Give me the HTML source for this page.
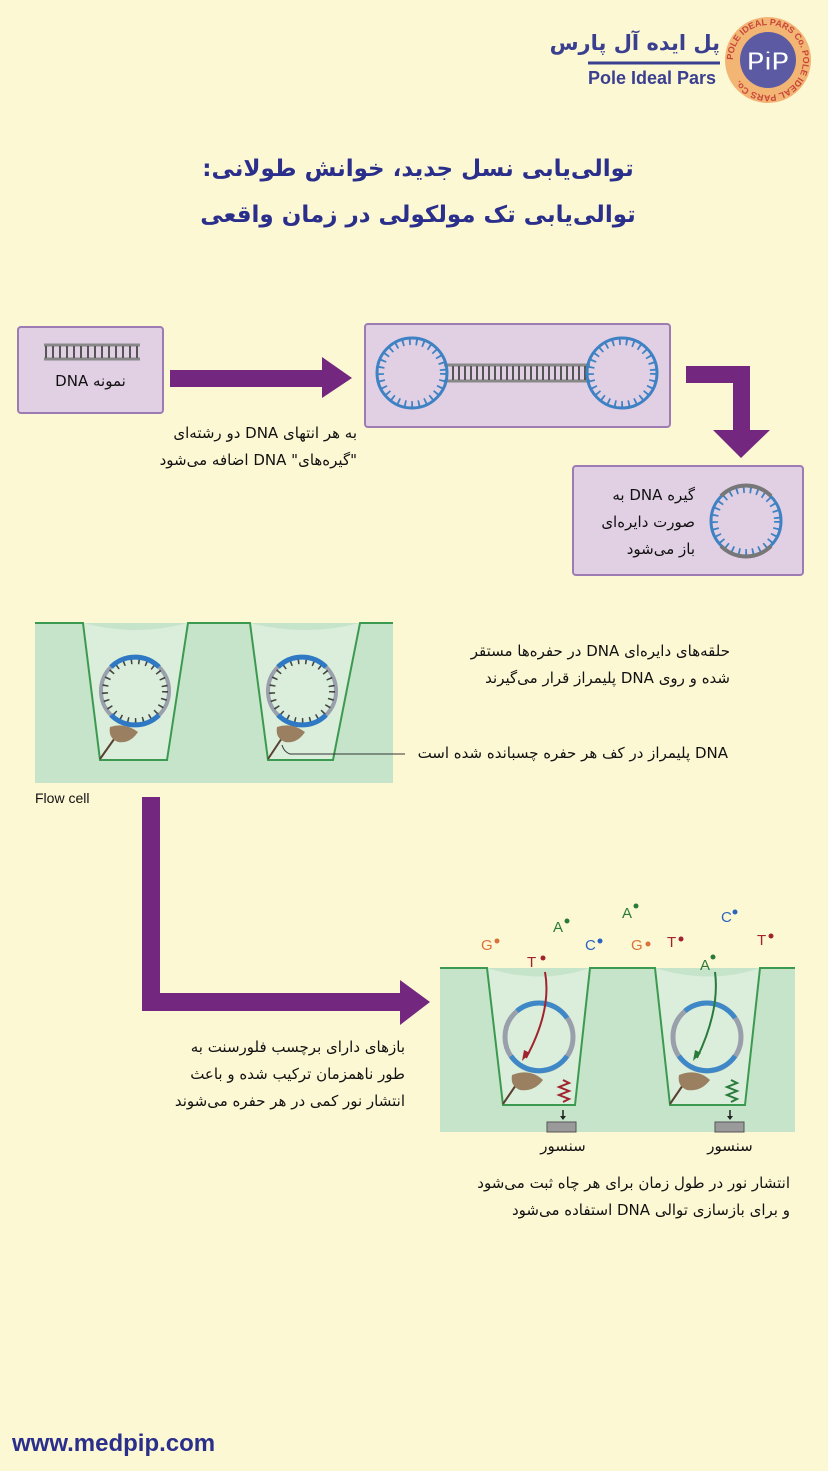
<!DOCTYPE html>
<html><head><meta charset="utf-8">
<style>
body{margin:0;background:#fdf8d4;}
#w{position:relative;width:828px;height:1471px;overflow:hidden;background:#fdf8d4;font-family:"Liberation Sans","Noto Sans CJK SC",sans-serif;}
.t{position:absolute;direction:rtl;text-align:right;color:#111;font-size:15px;line-height:27px;white-space:nowrap;font-family:"DejaVu Sans","Liberation Sans",sans-serif;}
svg{position:absolute;left:0;top:0;}
</style></head><body><div id="w">
<svg width="828" height="1471" viewBox="0 0 828 1471">
<!-- logo -->
<line x1="588" y1="63" x2="720" y2="63" stroke="#3a3f8f" stroke-width="3"/>
<circle cx="768" cy="60" r="43" fill="#f3b574"/>
<circle cx="768" cy="60" r="28" fill="#5b5aa3"/>
<text x="768" y="70" font-family="Liberation Sans" font-weight="bold" font-size="26" fill="#fff" stroke="#5b5aa3" text-anchor="middle">PiP</text>
<path id="arc" d="M733,60 A35,35 0 1,1 803,60 A35,35 0 1,1 733,60" fill="none"/>
<text font-size="9" fill="#c8453a" font-family="Liberation Sans" font-weight="bold"><textPath href="#arc">POLE IDEAL PARS Co. POLE IDEAL PARS Co.</textPath></text>

<!-- boxes -->
<rect x="18" y="327" width="145" height="86" rx="3" fill="#e1cfe4" stroke="#9c7cb3" stroke-width="2"/>
<rect x="365" y="324" width="305" height="103" rx="3" fill="#e1cfe4" stroke="#9c7cb3" stroke-width="2"/>
<rect x="573" y="466" width="230" height="109" rx="3" fill="#e1cfe4" stroke="#9c7cb3" stroke-width="2"/>
<line x1="44" y1="345" x2="140" y2="345" stroke="#888" stroke-width="3"/>
<line x1="44" y1="359" x2="140" y2="359" stroke="#888" stroke-width="3"/>
<line x1="45" y1="352" x2="140" y2="352" stroke="#555" stroke-width="12" stroke-dasharray="2 5"/>
<line x1="444" y1="365" x2="590" y2="365" stroke="#888" stroke-width="3"/>
<line x1="444" y1="381" x2="590" y2="381" stroke="#888" stroke-width="3"/>
<line x1="446" y1="373" x2="590" y2="373" stroke="#555" stroke-width="14" stroke-dasharray="2 4"/>
<g transform="translate(412,373)"><circle r="35" fill="none" stroke="#3e82c4" stroke-width="3"/><circle r="31" fill="none" stroke="#3e82c4" stroke-width="6" stroke-dasharray="1.8 5"/></g>
<g transform="translate(622,373)"><circle r="35" fill="none" stroke="#3e82c4" stroke-width="3"/><circle r="31" fill="none" stroke="#3e82c4" stroke-width="6" stroke-dasharray="1.8 5"/></g>
<g transform="translate(746,521)"><circle r="35" fill="none" stroke="#3e82c4" stroke-width="3"/><circle r="31" fill="none" stroke="#3e82c4" stroke-width="6" stroke-dasharray="1.8 5"/>
<path d="M-25,-25 A35,35 0 0,1 25,-25" fill="none" stroke="#777" stroke-width="4"/>
<path d="M-25,25 A35,35 0 0,0 25,25" fill="none" stroke="#777" stroke-width="4"/></g>

<!-- arrows -->
<polygon points="170,370 322,370 322,357 352,378 322,398 322,387 170,387" fill="#74277f"/>
<polygon points="686,366 750,366 750,430 770,430 741,458 713,430 733,430 733,383 686,383" fill="#74277f"/>
<polygon points="142,797 160,797 160,993 400,993 400,980 430,1002 400,1025 400,1011 142,1011" fill="#74277f"/>

<!-- flow cell 1 -->
<rect x="35" y="623" width="358" height="160" fill="#c6e4c9"/>
<path d="M83,623 Q135,637 188,623 L167,760 L100,760 Z" fill="#daeedb"/>
<path d="M250,623 Q305,637 360,623 L333,760 L268,760 Z" fill="#daeedb"/>
<path d="M35,623 L83,623 L100,760 L167,760 L188,623 L250,623 L268,760 L333,760 L360,623 L393,623" fill="none" stroke="#3c9a50" stroke-width="2"/>
<g transform="translate(135,691)"><circle r="34" fill="none" stroke="#9aa0ab" stroke-width="4"/><circle r="30" fill="none" stroke="#444" stroke-width="6" stroke-dasharray="1.6 6"/>
<path d="M-24,-24 A34,34 0 0,1 24,-24" fill="none" stroke="#2f78c4" stroke-width="5"/><path d="M-24,24 A34,34 0 0,0 24,24" fill="none" stroke="#2f78c4" stroke-width="5"/></g>
<g transform="translate(302,691)"><circle r="34" fill="none" stroke="#9aa0ab" stroke-width="4"/><circle r="30" fill="none" stroke="#444" stroke-width="6" stroke-dasharray="1.6 6"/>
<path d="M-24,-24 A34,34 0 0,1 24,-24" fill="none" stroke="#2f78c4" stroke-width="5"/><path d="M-24,24 A34,34 0 0,0 24,24" fill="none" stroke="#2f78c4" stroke-width="5"/></g>
<line x1="100" y1="759" x2="117" y2="735" stroke="#5a4030" stroke-width="2"/>
<path d="M110,727 Q125,722 138,732 Q130,744 118,742 Q108,738 110,727Z" fill="#9a8060"/>
<line x1="268" y1="759" x2="284" y2="735" stroke="#5a4030" stroke-width="2"/>
<path d="M277,727 Q292,722 305,732 Q297,744 285,742 Q275,738 277,727Z" fill="#9a8060"/>
<line x1="405" y1="754" x2="290" y2="754" stroke="#333" stroke-width="1"/>
<path d="M290,754 Q284,752 282,745" fill="none" stroke="#333" stroke-width="1"/>

<!-- flow cell 2 -->
<rect x="440" y="968" width="355" height="164" fill="#c6e4c9"/>
<path d="M487,968 Q540,985 590,968 L575,1105 L503,1105 Z" fill="#daeedb"/>
<path d="M655,968 Q710,985 760,968 L745,1105 L670,1105 Z" fill="#daeedb"/>
<path d="M440,968 L487,968 L503,1105 L575,1105 L590,968 L655,968 L670,1105 L745,1105 L760,968 L795,968" fill="none" stroke="#3c9a50" stroke-width="2"/>
<g transform="translate(539,1037)"><circle r="34" fill="none" stroke="#9aa0ab" stroke-width="5"/><path d="M-22,-26 A34,34 0 0,1 28,-19" fill="none" stroke="#3e88c8" stroke-width="5"/><path d="M-28,19 A34,34 0 0,0 28,19" fill="none" stroke="#3e88c8" stroke-width="5"/></g>
<g transform="translate(707,1037)"><circle r="34" fill="none" stroke="#9aa0ab" stroke-width="5"/><path d="M-22,-26 A34,34 0 0,1 28,-19" fill="none" stroke="#3e88c8" stroke-width="5"/><path d="M-28,19 A34,34 0 0,0 28,19" fill="none" stroke="#3e88c8" stroke-width="5"/></g>
<path d="M545,972 Q552,1010 526,1058" fill="none" stroke="#a0232e" stroke-width="2"/><polygon points="522,1061 524,1050 530,1053" fill="#a0232e"/>
<path d="M715,972 Q720,1010 697,1058" fill="none" stroke="#2a7a3c" stroke-width="2"/><polygon points="693,1061 695,1050 701,1053" fill="#2a7a3c"/>
<line x1="503" y1="1104" x2="518" y2="1082" stroke="#5a4030" stroke-width="2"/>
<path d="M512,1075 Q530,1068 543,1080 Q534,1092 520,1090 Q510,1086 512,1075Z" fill="#9a8060"/>
<line x1="670" y1="1104" x2="685" y2="1082" stroke="#5a4030" stroke-width="2"/>
<path d="M679,1075 Q697,1068 710,1080 Q701,1092 687,1090 Q677,1086 679,1075Z" fill="#9a8060"/>
<polyline points="563,1080 569,1083 559,1087 569,1091 559,1095 569,1099 563,1102" fill="none" stroke="#a0232e" stroke-width="2"/>
<polyline points="731,1080 737,1083 727,1087 737,1091 727,1095 737,1099 731,1102" fill="none" stroke="#2a7a3c" stroke-width="2"/>
<line x1="563" y1="1110" x2="563" y2="1119" stroke="#222" stroke-width="1.5"/><polygon points="560,1116 566,1116 563,1120" fill="#222"/>
<line x1="730" y1="1110" x2="730" y2="1119" stroke="#222" stroke-width="1.5"/><polygon points="727,1116 733,1116 730,1120" fill="#222"/>
<rect x="547" y="1122" width="29" height="10" fill="#9a9a9a" stroke="#555"/>
<rect x="715" y="1122" width="29" height="10" fill="#9a9a9a" stroke="#555"/>
<g font-family="Liberation Sans" font-size="15">
<text x="481" y="950" fill="#d9723a">G</text><circle cx="497" cy="941" r="2.5" fill="#d9723a"/>
<text x="553" y="932" fill="#2a7a3c">A</text><circle cx="567" cy="921" r="2.5" fill="#2a7a3c"/>
<text x="585" y="950" fill="#2d63c0">C</text><circle cx="600" cy="941" r="2.5" fill="#2d63c0"/>
<text x="527" y="967" fill="#a0232e">T</text><circle cx="543" cy="958" r="2.5" fill="#a0232e"/>
<text x="622" y="918" fill="#2a7a3c">A</text><circle cx="636" cy="906" r="2.5" fill="#2a7a3c"/>
<text x="631" y="950" fill="#d9723a">G</text><circle cx="648" cy="944" r="2.5" fill="#d9723a"/>
<text x="667" y="947" fill="#a0232e">T</text><circle cx="681" cy="939" r="2.5" fill="#a0232e"/>
<text x="721" y="922" fill="#2d63c0">C</text><circle cx="735" cy="912" r="2.5" fill="#2d63c0"/>
<text x="757" y="945" fill="#a0232e">T</text><circle cx="771" cy="936" r="2.5" fill="#a0232e"/>
<text x="700" y="970" fill="#2a7a3c">A</text><circle cx="713" cy="957" r="2.5" fill="#2a7a3c"/>
</g>
</svg>

<div class="t" style="right:108px;top:30px;font-size:21px;color:#3a3f8f;font-weight:bold;">پل ایده آل پارس</div>
<div style="position:absolute;left:588px;top:68px;font-size:18px;font-weight:bold;color:#3a3f8f;font-family:'Liberation Sans',sans-serif;">Pole Ideal Pars</div>

<div class="t" style="left:0;width:836px;text-align:center;top:146px;font-size:23px;line-height:46px;font-weight:bold;color:#2b2f8c;">توالی‌یابی نسل جدید، خوانش طولانی:<br>توالی‌یابی تک مولکولی در زمان واقعی</div>

<div class="t" style="left:18px;width:145px;text-align:center;top:368px;">نمونه DNA</div>
<div class="t" style="right:471px;top:420px;">به هر انتهای DNA دو رشته‌ای<br>"گیره‌های" DNA اضافه می‌شود</div>
<div class="t" style="right:133px;top:482px;line-height:27px;">گیره DNA به<br>صورت دایره‌ای<br>باز می‌شود</div>
<div class="t" style="right:98px;top:638px;">حلقه‌های دایره‌ای DNA در حفره‌ها مستقر<br>شده و روی DNA پلیمراز قرار می‌گیرند</div>
<div class="t" style="right:100px;top:740px;">DNA پلیمراز در کف هر حفره چسبانده شده است</div>
<div style="position:absolute;left:35px;top:790px;font-size:14px;color:#111;font-family:'Liberation Sans',sans-serif;">Flow cell</div>
<div class="t" style="right:423px;top:1034px;">بازهای دارای برچسب فلورسنت به<br>طور ناهمزمان ترکیب شده و باعث<br>انتشار نور کمی در هر حفره می‌شوند</div>
<div class="t" style="left:530px;width:66px;text-align:center;top:1133px;">سنسور</div>
<div class="t" style="left:697px;width:66px;text-align:center;top:1133px;">سنسور</div>
<div class="t" style="right:38px;top:1170px;">انتشار نور در طول زمان برای هر چاه ثبت می‌شود<br>و برای بازسازی توالی DNA استفاده می‌شود</div>
<div style="position:absolute;left:12px;top:1430px;font-size:24px;font-weight:bold;color:#2b2f8c;font-family:'Liberation Sans',sans-serif;">www.medpip.com</div>
</div></body></html>
